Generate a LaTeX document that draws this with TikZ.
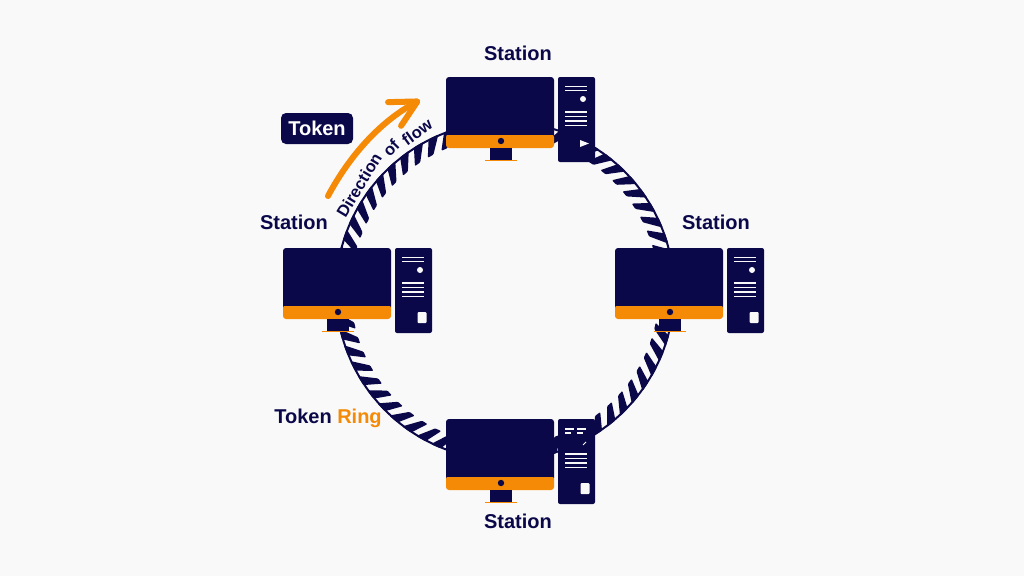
\documentclass[tikz,border=0pt]{standalone}
\usepackage{fontspec}
\setmainfont{Liberation Sans}
\usetikzlibrary{arrows.meta}
\definecolor{navy}{HTML}{0B0849}
\definecolor{amber}{HTML}{F58A07}
\definecolor{paper}{HTML}{F9F9F9}
\tikzset{
  label/.style={font=\fontsize{20}{22}\selectfont\bfseries,text=navy,inner sep=0pt},
  flowword/.style={font=\fontsize{16.5}{18}\selectfont\bfseries,text=navy,inner sep=0pt},
  stripe/.style={fill=navy,rounded corners=1},
  stationpc/.pic={
    \fill[navy,rounded corners=3] (0,0) rectangle (108,62);
    \fill[amber,rounded corners=3] (0,57) rectangle (108,71);
    \fill[navy] (0,57) rectangle (108,58);
    \fill[navy] (44,71) rectangle (66,83);
    \fill[amber] (39,83) rectangle (71,84);
    \fill[navy] (55,64) circle (3.2);
    \fill[navy,rounded corners=2] (112,0) rectangle (149,85);
    \foreach \y in {35,39.5,44,48.5}
      \draw[paper,line width=1.3] (119,\y) -- (141,\y);
  }
}
\begin{document}
\begin{tikzpicture}[x=1pt,y=-1pt]
\useasboundingbox[fill=paper] (0,0) rectangle (1024,576);
% ring
\begin{scope}[shift={(505,291)}]
\draw[navy,line width=2] (0:169) arc[start angle=0,end angle=360,radius=169];
\foreach \a in {0,5.7,...,354}
  \fill[stripe] (\a-1.8:170) -- (\a+1.8:170) -- (\a-2.8:154) -- (\a-5.2:154) -- cycle;
\end{scope}
% stations
\pic at (446,77) {stationpc};
\pic at (283,248) {stationpc};
\pic at (615,248) {stationpc};
\pic at (446,419) {stationpc};
% tower front panels
\foreach \x/\y in {446/77,283/248,615/248}{
  \draw[paper,line width=1.3] (\x+119,\y+9.5) -- (\x+141,\y+9.5);
  \draw[paper,line width=1.3] (\x+119,\y+13.5) -- (\x+141,\y+13.5);
  \fill[paper] (\x+137,\y+22) circle (3);
}
\foreach \x/\y in {283/248,615/248,446/419}
  \fill[paper,rounded corners=1] (\x+134.5,\y+64) rectangle (\x+143.5,\y+75);
\fill[paper] (580,140) -- (589,143.5) -- (580,147) -- cycle;
\foreach \x/\xx in {565/574,577/586}{
  \draw[paper,line width=1.3] (\x,429) -- (\xx,429);
  \draw[paper,line width=1.3] (\x,433) -- (\xx-3,433);
}
\draw[paper,line width=1] (583,445) -- (586,442);
% flow arrow
\coordinate (flowstart) at (328,196);
\coordinate (flowend) at (420,100);
\draw[amber,line width=6,line cap=round,-{Straight Barb[length=26,width=27,round]}]
  (flowstart) .. controls (350,155) and (380,122) .. (flowend);
\node[flowword,rotate=59] (flowa) at (359,185) {Direction};
\node[flowword,rotate=46] (flowb) at (391,148) {of};
\node[flowword,rotate=36] (flowc) at (417,132) {flow};
% labels
\node[fill=navy,rounded corners=5,minimum width=72,minimum height=31,
  font=\fontsize{20}{22}\selectfont\bfseries,text=white,inner sep=0pt] (token) at (317,128.5) {Token};
\node[label] (stationtop) at (518,53) {Station};
\node[label] (stationleft) at (294,222) {Station};
\node[label] (stationright) at (716,222) {Station};
\node[label] (stationbottom) at (518,521) {Station};
\node[label] (ringname) at (328,418) {Token \textcolor{amber}{Ring}};
\end{tikzpicture}
\end{document}
